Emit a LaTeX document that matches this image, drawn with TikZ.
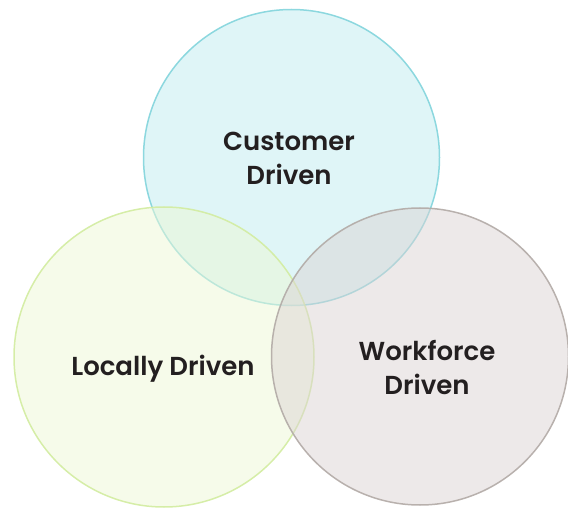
\documentclass[tikz,border=0pt]{standalone}
\usepackage{fontspec}
\setmainfont{Poppins}[BoldFont={Poppins SemiBold}]
\definecolor{cyanfill}{RGB}{191,235,239}
\definecolor{cyanline}{RGB}{130,212,220}
\definecolor{greenfill}{RGB}{237,247,213}
\definecolor{greenline}{RGB}{210,236,160}
\definecolor{grayfill}{RGB}{219,211,211}
\definecolor{grayline}{RGB}{178,170,166}
\definecolor{txt}{RGB}{35,31,32}
\tikzset{
  venn/.style={circle, line width=1.5pt, fill opacity=0.5, draw opacity=0.9, inner sep=0pt},
  lbl/.style={text=txt, font=\bfseries\fontsize{26}{34}\selectfont, align=center}
}
\begin{document}
\begin{tikzpicture}[x=1pt,y=-1pt]
\useasboundingbox (0,0) rectangle (568,508);
\node[venn, draw=cyanline, fill=cyanfill, minimum size=296pt] (top) at (291.5,157.5) {};
\node[venn, draw=greenline, fill=greenfill, minimum size=300pt] (left) at (164,357) {};
\node[venn, draw=grayline, fill=grayfill, minimum size=297pt] (right) at (420,356.5) {};
\node[lbl] (tl) at (289,158) {Customer\\Driven};
\node[lbl] (ll) at (163,369) {Locally Driven};
\node[lbl] (rl) at (427,367) {Workforce\\Driven};
\end{tikzpicture}
\end{document}
